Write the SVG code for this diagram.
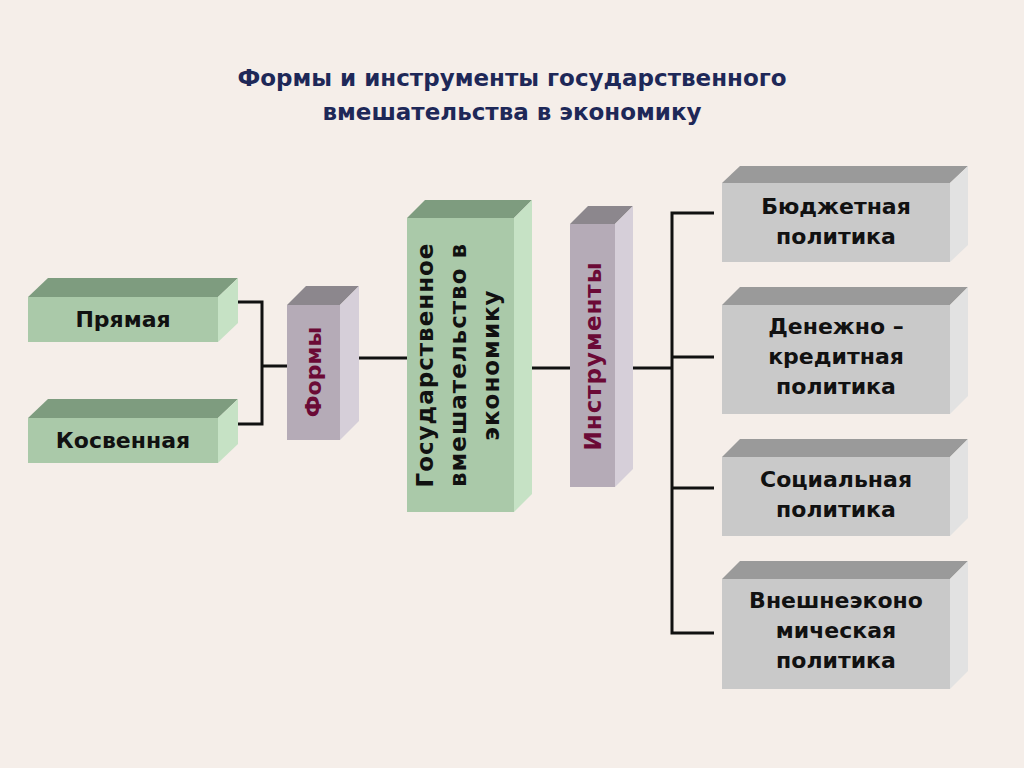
<svg xmlns="http://www.w3.org/2000/svg" width="1024" height="768" viewBox="0 0 1024 768">
<style>
text{font-family:"DejaVu Sans","Liberation Sans",sans-serif;font-weight:bold}
.t{font-size:22px;fill:#111;text-anchor:middle}
.v{font-size:23px;letter-spacing:1px}
.m{fill:#6b0a36}
.gf{fill:#aac9a9}.gt{fill:#7e9c7f}.gr{fill:#c6e2c5}
.sf{fill:#c9c9c9}.st{fill:#9a9a9a}.sr{fill:#e2e2e2}
.pf{fill:#b5abb7}.pt{fill:#8c878d}.pr{fill:#d6cfd9}
.c{stroke:#111;stroke-width:3;fill:none}
</style>
<rect width="1024" height="768" fill="#f5eee9"/>
<text x="512" y="86" font-size="23" fill="#1e2858" text-anchor="middle">Формы и инструменты государственного</text>
<text x="512" y="120" font-size="23" fill="#1e2858" text-anchor="middle">вмешательства в экономику</text>
<g id="connectors" class="c">
<path d="M238 302H262V424H238M262 366H287"/>
<path d="M359 358H407"/>
<path d="M532 368H570"/>
<path d="M633 368H672M714 213H672V633H714M672 357H714M672 488H714"/>
</g>
<g id="pryamaya"><polygon class="gt" points="28,297 48,278 238,278 218,297"/><polygon class="gr" points="218,297 238,278 238,323 218,342"/><rect class="gf" x="28" y="297" width="190" height="45"/><text class="t" x="123" y="327">Прямая</text></g>
<g id="kosvennaya"><polygon class="gt" points="28,418 48,399 238,399 218,418"/><polygon class="gr" points="218,418 238,399 238,444 218,463"/><rect class="gf" x="28" y="418" width="190" height="45"/><text class="t" x="123" y="448">Косвенная</text></g>
<g id="formy"><polygon class="pt" points="287,305 306,286 359,286 340,305"/><polygon class="pr" points="340,305 359,286 359,421 340,440"/><rect class="pf" x="287" y="305" width="53" height="135"/><text class="t m" transform="translate(321,372) rotate(-90)">Формы</text></g>
<g id="gov"><polygon class="gt" points="407,218 425,200 532,200 514,218"/><polygon class="gr" points="514,218 532,200 532,494 514,512"/><rect class="gf" x="407" y="218" width="107" height="294"/><text class="t v" transform="rotate(-90 460 365)" x="460" y="365"><tspan x="460" dy="-27">Государственное</tspan><tspan x="460" dy="33">вмешательство в</tspan><tspan x="460" dy="33">экономику</tspan></text></g>
<g id="instr"><polygon class="pt" points="570,224 588,206 633,206 615,224"/><polygon class="pr" points="615,224 633,206 633,469 615,487"/><rect class="pf" x="570" y="224" width="45" height="263"/><text class="t v m" transform="translate(601,356) rotate(-90)">Инструменты</text></g>
<g id="budget"><polygon class="st" points="722,183 740,166 968,166 950,183"/><polygon class="sr" points="950,183 968,166 968,245 950,262"/><rect class="sf" x="722" y="183" width="228" height="79"/><text class="t" x="836" y="214">Бюджетная</text><text class="t" x="836" y="244">политика</text></g>
<g id="money"><polygon class="st" points="722,305 740,287 968,287 950,305"/><polygon class="sr" points="950,305 968,287 968,396 950,414"/><rect class="sf" x="722" y="305" width="228" height="109"/><text class="t" x="836" y="334">Денежно –</text><text class="t" x="836" y="364">кредитная</text><text class="t" x="836" y="394">политика</text></g>
<g id="social"><polygon class="st" points="722,457 740,439 968,439 950,457"/><polygon class="sr" points="950,457 968,439 968,518 950,536"/><rect class="sf" x="722" y="457" width="228" height="79"/><text class="t" x="836" y="487">Социальная</text><text class="t" x="836" y="517">политика</text></g>
<g id="foreign"><polygon class="st" points="722,579 740,561 968,561 950,579"/><polygon class="sr" points="950,579 968,561 968,671 950,689"/><rect class="sf" x="722" y="579" width="228" height="110"/><text class="t" x="836" y="608">Внешнеэконо</text><text class="t" x="836" y="638">мическая</text><text class="t" x="836" y="668">политика</text></g>
</svg>
